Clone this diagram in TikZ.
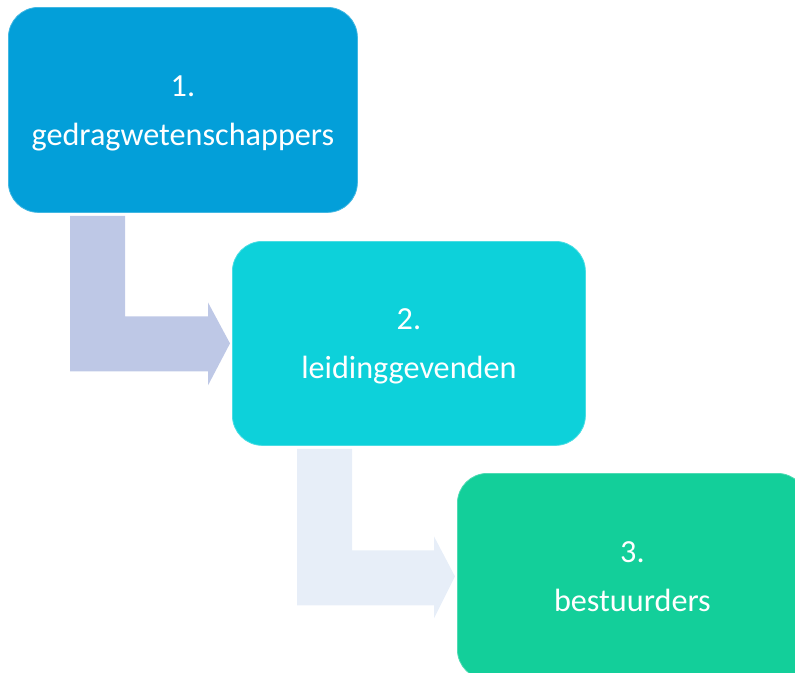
\documentclass[tikz,border=0pt]{standalone}
\usepackage{fontspec}
\setmainfont{Carlito}
\usetikzlibrary{calc}
\definecolor{stepone}{HTML}{039FD9}
\definecolor{steptwo}{HTML}{0DD1DA}
\definecolor{stepthree}{HTML}{13CF9A}
\definecolor{bendone}{HTML}{BEC8E6}
\definecolor{bendtwo}{HTML}{E7EEF8}
\newcommand{\toplift}{\rule{0pt}{27pt}}
\tikzset{
  stagebox/.style={rectangle, rounded corners=30pt, anchor=north west,
    inner sep=0pt, align=center, text=white,
    font=\fontsize{32.2}{49}\selectfont},
}
\begin{document}
\begin{tikzpicture}[x=1pt, y=-1pt]
  \useasboundingbox (0,0) rectangle (795,672);
  \clip (0,0) rectangle (795,672);

  % three stages
  \node[stagebox, fill=stepone, draw=stepone!75!white, line width=0.8pt,
        minimum width=349pt, minimum height=205pt] (b1) at (8,7)
        {\toplift 1.\\gedragwetenschappers\vphantom{p}};
  \node[stagebox, fill=steptwo, draw=steptwo!75!white, line width=0.8pt,
        minimum width=353pt, minimum height=204pt] (b2) at (232,241)
        {\toplift 2.\\leidinggevenden\vphantom{p}};
  \node[stagebox, fill=stepthree, draw=stepthree!75!white, line width=0.8pt,
        minimum width=350pt, minimum height=206pt] (b3) at (457,473)
        {\toplift 3.\\bestuurders\vphantom{p}};

  % bent arrow from stage 1 to stage 2
  \fill[bendone]
    ($(b1.south west)+(62,3)$) coordinate (p1)
    -- ($(b1.south west)+(117,3)$) coordinate (p2)
    -- (p2 |- {$(b2.west)+(0,-27)$})
    -- ($(b2.west)+(-24,-27)$)
    -- ($(b2.west)+(-24,-41)$)
    -- ($(b2.west)+(-2,0)$)
    -- ($(b2.west)+(-24,42)$)
    -- ($(b2.west)+(-24,28)$) coordinate (p8)
    -- (p1 |- p8)
    -- cycle;

  % bent arrow from stage 2 to stage 3
  \fill[bendtwo]
    ($(b2.south west)+(65,3)$) coordinate (q1)
    -- ($(b2.south west)+(120,3)$) coordinate (q2)
    -- (q2 |- {$(b3.west)+(0,-26)$})
    -- ($(b3.west)+(-23,-26)$)
    -- ($(b3.west)+(-23,-40)$)
    -- ($(b3.west)+(-2,0)$)
    -- ($(b3.west)+(-23,42)$)
    -- ($(b3.west)+(-23,29)$) coordinate (q8)
    -- (q1 |- q8)
    -- cycle;
\end{tikzpicture}
\end{document}
